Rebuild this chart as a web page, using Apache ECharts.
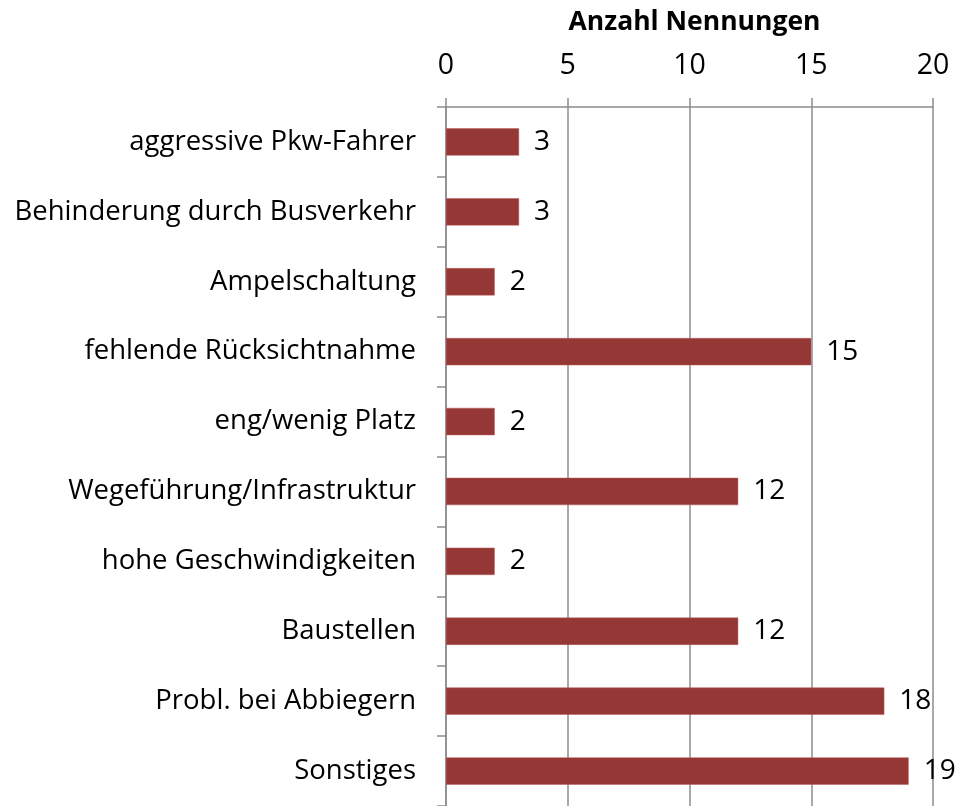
<!DOCTYPE html>
<html>
<head>
<meta charset="utf-8">
<script src="https://cdn.jsdelivr.net/npm/echarts@6/dist/echarts.min.js"></script>
<style>
  html, body { margin: 0; padding: 0; background: #fff; }
  #chart { width: 956px; height: 806px; }
</style>
</head>
<body>
<div id="chart"></div>
<script>
// Gründe / Problemfelder, Anzahl Nennungen
const categories = [
  'aggressive Pkw-Fahrer',
  'Behinderung durch Busverkehr',
  'Ampelschaltung',
  'fehlende Rücksichtnahme',
  'eng/wenig Platz',
  'Wegeführung/Infrastruktur',
  'hohe Geschwindigkeiten',
  'Baustellen',
  'Probl. bei Abbiegern',
  'Sonstiges'
];
const counts = [3, 3, 2, 15, 2, 12, 2, 12, 18, 19];
const axisTicks = [0, 5, 10, 15, 20];

const FONT = 'Open Sans';
const GRID_GRAY = '#8c8c8c';

const chart = echarts.init(document.getElementById('chart'), null, { renderer: 'canvas' });
chart.setOption({
  animation: false,
  backgroundColor: '#ffffff',
  title: {
    text: 'Anzahl Nennungen',
    left: 689.5,
    top: 4,
    textAlign: 'center',
    textStyle: { fontFamily: FONT, fontSize: 26.5, fontWeight: 'bold', color: '#000' }
  },
  grid: { left: 446, top: 107, right: 23, height: 703, containLabel: false },
  xAxis: {
    type: 'value',
    position: 'top',
    min: axisTicks[0],
    max: axisTicks[axisTicks.length - 1],
    interval: axisTicks[1] - axisTicks[0],
    axisLine: { show: true, lineStyle: { color: GRID_GRAY, width: 1.5 } },
    axisTick: { show: true, length: 9, lineStyle: { color: GRID_GRAY, width: 1.5 } },
    splitLine: { show: true, lineStyle: { color: GRID_GRAY, width: 1.5 } },
    axisLabel: { margin: 27, fontFamily: FONT, fontSize: 28.5, color: '#000' }
  },
  yAxis: {
    type: 'category',
    inverse: true,
    data: categories,
    axisLine: { show: true, lineStyle: { color: GRID_GRAY, width: 1.5 } },
    axisTick: { show: true, length: 9, lineStyle: { color: GRID_GRAY, width: 1.5 } },
    axisLabel: { margin: 30, fontFamily: FONT, fontSize: 27.5, color: '#000' }
  },
  series: [{
    type: 'bar',
    data: counts,
    barCategoryGap: '61%',
    itemStyle: { color: '#953735', borderColor: '#b85a58', borderWidth: 0.5 },
    label: {
      show: true,
      position: 'right',
      distance: 15,
      fontFamily: FONT,
      fontSize: 28,
      color: '#000'
    }
  }]
});
</script>
</body>
</html>
